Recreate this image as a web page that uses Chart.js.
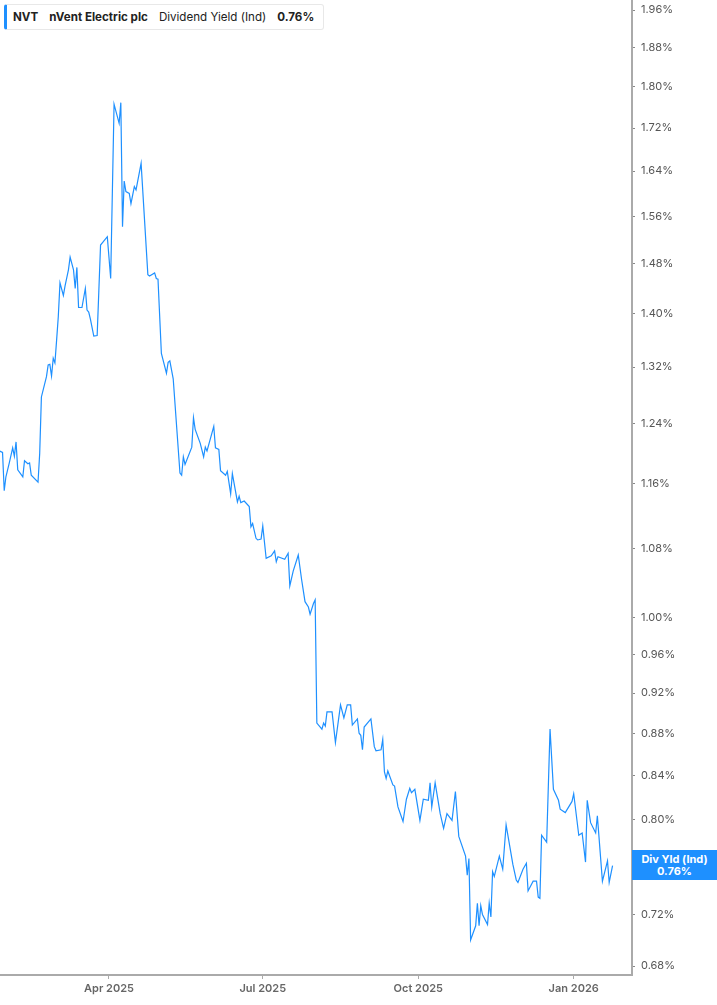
<!DOCTYPE html>
<html>
<head>
<meta charset="utf-8">
<script src="https://cdn.jsdelivr.net/npm/chart.js@4.4.1/dist/chart.umd.min.js"></script>
<style>
  html, body { margin: 0; padding: 0; background: #fff; }
  #wrap { position: relative; width: 717px; height: 1005px; font-family: Inter, "Noto Sans", sans-serif; }
  #legend {
    position: absolute; left: 4px; top: 4px; width: 320px; height: 26px;
    box-sizing: border-box; border: 1px solid #e8e8e8; border-left: 3px solid #1e90ff;
    border-radius: 3px; background: #fff; color: #222; font-size: 11.6px; line-height: 24px;
    padding-left: 6px; white-space: nowrap;
  }
  #legend b { font-weight: 700; }
  #legend span { margin-right: 11px; }
  #badge {
    position: absolute; left: 632px; width: 85px; height: 30px; box-sizing: border-box;
    padding-top: 3px; background: #1e90ff; color: #fff; font-size: 11px; font-weight: 700;
    line-height: 12px; text-align: center;
  }
</style>
</head>
<body>
<div id="wrap">
  <canvas id="myChart" width="717" height="1005"></canvas>
  <div id="legend"><span><b>NVT</b></span><span><b>nVent Electric plc</b></span><span>Dividend Yield (Ind)</span><b>0.76%</b></div>
  <div id="badge">Div Yld (Ind)<br>0.76%</div>
</div>
<script>
// days since 1 Jan 2025
const days = [
  25, 27, 28, 29, 31, 33, 34, 35, 36, 39,
  40, 42, 43, 44, 48, 49, 50, 53, 54, 55,
  56, 57, 58, 59, 60, 61, 63, 64, 66, 67,
  69, 70, 71, 72, 74, 76, 77, 78, 79, 81,
  83, 84, 85, 89, 91, 93, 96, 97, 98, 99,
  100, 102, 103, 105, 106, 109, 113, 114, 117, 118,
  119, 121, 124, 125, 126, 128, 132, 133, 134, 135,
  139, 140, 141, 144, 146, 147, 148, 152, 153, 155,
  156, 159, 160, 162, 163, 166, 167, 168, 170, 173,
  174, 175, 177, 178, 180, 181, 183, 186, 188, 189,
  190, 194, 196, 197, 199, 202, 204, 206, 208, 209,
  211, 212, 213, 215, 216, 217, 218, 219, 222, 224,
  227, 229, 231, 233, 234, 237, 238, 239, 240, 241,
  245, 247, 248, 251, 252, 253, 254, 255, 258, 259,
  261, 264, 266, 268, 269, 271, 274, 276, 279, 280,
  281, 283, 286, 288, 290, 293, 295, 297, 301, 302,
  303, 304, 307, 308, 309, 310, 311, 314, 315, 316,
  317, 318, 321, 323, 325, 329, 331, 332, 335, 337,
  338, 341, 343, 344, 345, 346, 349, 351, 353, 356,
  357, 360, 364, 365, 368, 370, 372, 373, 375, 378,
  379, 382, 385, 386, 388
];

// dividend yield, %
const yields = [
  1.203, 1.201, 1.151, 1.169, 1.187, 1.207, 1.196, 1.215, 1.178, 1.169,
  1.190, 1.186, 1.187, 1.171, 1.162, 1.200, 1.277, 1.306, 1.323, 1.324,
  1.307, 1.333, 1.326, 1.360, 1.396, 1.449, 1.429, 1.444, 1.470, 1.491,
  1.470, 1.440, 1.474, 1.410, 1.410, 1.440, 1.406, 1.403, 1.392, 1.366,
  1.367, 1.437, 1.511, 1.525, 1.456, 1.766, 1.729, 1.769, 1.542, 1.622,
  1.603, 1.600, 1.582, 1.612, 1.606, 1.654, 1.462, 1.460, 1.465, 1.456,
  1.455, 1.340, 1.311, 1.327, 1.329, 1.303, 1.174, 1.171, 1.195, 1.185,
  1.208, 1.248, 1.232, 1.213, 1.195, 1.208, 1.203, 1.236, 1.207, 1.205,
  1.177, 1.171, 1.176, 1.147, 1.173, 1.137, 1.144, 1.136, 1.138, 1.131,
  1.106, 1.110, 1.092, 1.090, 1.091, 1.107, 1.068, 1.071, 1.077, 1.064,
  1.070, 1.067, 1.074, 1.036, 1.053, 1.072, 1.043, 1.018, 1.012, 1.004,
  1.016, 1.020, 0.890, 0.886, 0.884, 0.890, 0.887, 0.901, 0.901, 0.871,
  0.908, 0.895, 0.908, 0.908, 0.888, 0.894, 0.880, 0.878, 0.864, 0.886,
  0.894, 0.867, 0.863, 0.864, 0.874, 0.843, 0.837, 0.844, 0.831, 0.830,
  0.811, 0.798, 0.818, 0.828, 0.824, 0.827, 0.799, 0.818, 0.817, 0.833,
  0.811, 0.833, 0.805, 0.792, 0.805, 0.799, 0.825, 0.785, 0.768, 0.752,
  0.766, 0.700, 0.711, 0.729, 0.711, 0.727, 0.720, 0.712, 0.729, 0.718,
  0.755, 0.751, 0.768, 0.757, 0.795, 0.761, 0.748, 0.746, 0.757, 0.762,
  0.739, 0.747, 0.747, 0.734, 0.733, 0.786, 0.780, 0.884, 0.827, 0.817,
  0.809, 0.806, 0.816, 0.823, 0.786, 0.788, 0.763, 0.817, 0.797, 0.788,
  0.803, 0.747, 0.764, 0.746, 0.760
];

const tickDates = ['2025-04-01', '2025-07-01', '2025-10-01', '2026-01-01'];
const tickLabels = ['Apr 2025', 'Jul 2025', 'Oct 2025', 'Jan 2026'];
const yTicks = [0.68, 0.72, 0.76, 0.80, 0.84, 0.88, 0.92, 0.96, 1.00, 1.08, 1.16,
                1.24, 1.32, 1.40, 1.48, 1.56, 1.64, 1.72, 1.80, 1.88, 1.96];

const dayOf = s => {
  const [y, m, d] = s.split('-').map(Number);
  return (Date.UTC(y, m - 1, d) - Date.UTC(2025, 0, 1)) / 864e5;
};
const tickDays = tickDates.map(dayOf);

const lineColor = '#1e90ff';
const axisColor = '#aaaaaa';

const chart = new Chart(document.getElementById('myChart'), {
  type: 'line',
  data: {
    datasets: [{
      label: 'Dividend Yield (Ind)',
      data: days.map((d, i) => ({ x: d, y: yields[i] })),
      borderColor: lineColor,
      borderWidth: 1.2,
      pointRadius: 0,
      tension: 0,
      fill: false
    }]
  },
  options: {
    responsive: false,
    animation: false,
    layout: { padding: 0 },
    plugins: { legend: { display: false }, tooltip: { enabled: false } },
    scales: {
      x: {
        type: 'linear',
        min: 25.5,
        max: 399.5,
        afterBuildTicks: s => { s.ticks = tickDays.map(v => ({ value: v })); },
        afterFit: s => { s.height = 30; s.paddingLeft = 0; s.paddingRight = 0; },
        ticks: {
          callback: v => tickLabels[tickDays.indexOf(v)],
          color: '#666',
          font: { family: 'Inter', size: 11, weight: '600' },
          padding: 3,
          maxRotation: 0,
          autoSkip: false
        },
        grid: { drawOnChartArea: false, tickLength: 4, color: axisColor },
        border: { color: axisColor, width: 2 }
      },
      y: {
        type: 'logarithmic',
        position: 'right',
        min: 0.6733,
        max: 1.982,
        afterBuildTicks: s => { s.ticks = yTicks.map(v => ({ value: v })); },
        afterFit: s => { s.width = 85; s.paddingTop = 0; s.paddingBottom = 0; },
        ticks: {
          callback: v => v.toFixed(2) + '%',
          color: '#555',
          font: { family: 'Inter', size: 11 },
          padding: 6,
          autoSkip: false
        },
        grid: { drawOnChartArea: false, tickLength: 3, color: '#888' },
        border: { color: axisColor, width: 2 }
      }
    }
  }
});

const badge = document.getElementById('badge');
const lastY = chart.scales.y.getPixelForValue(yields[yields.length - 1]);
badge.style.top = (lastY - 16) + 'px';
</script>
</body>
</html>
